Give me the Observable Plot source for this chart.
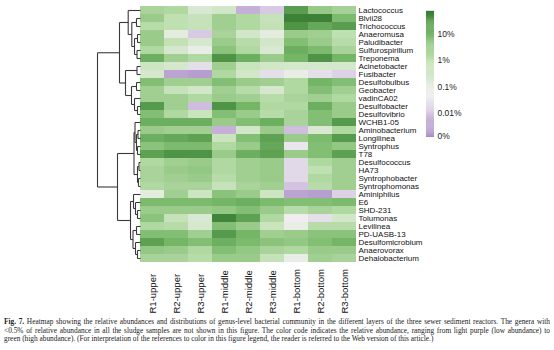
<!DOCTYPE html>
<html><head><meta charset="utf-8">
<script src="https://cdn.jsdelivr.net/npm/d3@7"></script>
<script src="https://cdn.jsdelivr.net/npm/@observablehq/plot@0.6"></script>
<style>
body{margin:0;background:#fff;}
#wrap{position:relative;width:554px;height:350px;overflow:hidden;background:#fff;}
#wrap svg{position:absolute;left:0;top:0;}
#caption{position:absolute;left:4px;top:318px;width:546px;font-family:"Liberation Serif","DejaVu Serif",serif;font-size:7.35px;line-height:8.6px;color:#222;}
#caption .j{text-align:justify;text-align-last:justify;}
#caption div{white-space:nowrap;}
</style></head><body>
<div id="wrap">
<div id="caption">
<div class="j"><b>Fig. 7.</b> Heatmap showing the relative abundances and distributions of genus-level bacterial community in the different layers of the three sewer sediment reactors. The genera with</div>
<div class="j">&lt;0.5% of relative abundance in all the sludge samples are not shown in this figure. The color code indicates the relative abundance, ranging from light purple (low abundance) to</div>
<div>green (high abundance). (For interpretation of the references to color in this figure legend, the reader is referred to the Web version of this article.)</div>
</div>
</div>
<script>
const samples = ["R1-upper","R2-upper","R3-upper","R1-middle","R2-middle","R3-middle","R1-bottom","R2-bottom","R3-bottom"];
const genera = ["Lactococcus","Blvii28","Trichococcus","Anaeromusa","Paludibacter","Sulfurospirillum","Treponema","Acinetobacter","Fusibacter","Desulfobulbus","Geobacter","vadinCA02","Desulfobacter","Desulfovibrio","WCHB1-05","Aminobacterium","Longilinea","Syntrophus","T78","Desulfococcus","HA73","Syntrophobacter","Syntrophomonas","Aminiphilus","E6","SHD-231","Tolumonas","Levilinea","PD-UASB-13","Desulfomicrobium","Anaerovorax","Dehalobacterium"];
// log10 of relative abundance (%), one row per genus, one column per sample
const abundance = [
  [0.3, 0.2, -0.7, -0.5, -2.3, -1.9, 1.35, 0.55, 0.35],
  [0.5, 0.0, -0.2, 0.4, 0.2, -0.2, 1.75, 1.75, 0.9],
  [0.1, 0.0, -0.2, 0.4, 0.2, -0.1, 1.5, 1.2, 1.35],
  [0.5, -1.0, -1.9, 0.3, -0.5, -1.0, 0.5, 0.4, 0.0],
  [0.5, -0.1, -0.6, 0.5, 0.1, -0.5, 0.8, 0.5, 0.1],
  [0.2, -0.6, -1.1, 0.7, 0.2, -0.7, 1.1, 0.9, 0.3],
  [1.1, 0.4, 0.2, 1.5, 1.1, 0.5, 1.0, 1.5, 1.0],
  [-0.4, -0.6, -1.6, 0.4, -0.3, -0.5, -0.6, -0.6, -0.6],
  [-0.6, -2.5, -2.6, 0.2, -0.5, -1.6, -1.1, -1.6, -1.8],
  [0.8, 0.4, 0.4, 0.8, 0.5, 0.4, 0.2, 1.0, 0.8],
  [0.4, -0.2, -0.5, 0.4, 0.1, -0.6, 0.2, 0.8, 0.4],
  [0.4, 0.4, 0.2, 0.5, 0.4, 0.1, 0.3, 0.4, 0.2],
  [1.4, 0.4, -2.1, 1.5, 1.0, 0.2, 0.2, 1.1, 0.5],
  [0.8, 0.2, -0.3, 0.8, 0.5, 0.1, 0.3, 0.8, 0.5],
  [1.1, 1.1, 1.1, 0.5, 0.8, 1.1, 0.3, 0.8, 1.4],
  [0.5, 0.4, 0.4, -2.3, -0.5, 0.5, -2.1, -0.7, 0.2],
  [1.1, 1.2, 1.3, -0.3, 0.8, 1.3, 0.5, 0.9, 1.4],
  [0.7, 0.9, 0.9, 0.2, 0.5, 1.2, -1.5, 0.8, 0.6],
  [1.3, 1.5, 1.5, 0.5, 1.1, 1.3, 0.5, 0.8, 1.3],
  [0.2, 0.4, 0.5, 0.2, 0.4, 0.5, -1.7, 0.2, 0.4],
  [0.3, 0.5, 0.6, 0.2, 0.4, 0.5, -1.7, 0.0, 0.4],
  [0.3, 0.4, 0.5, 0.1, 0.4, 0.5, -1.7, 0.2, 0.4],
  [0.2, 0.3, 0.3, -0.2, 0.3, 0.4, -2.0, 0.1, 0.4],
  [-1.0, 0.4, -0.4, 0.7, 0.5, -0.4, -2.5, -2.6, -1.8],
  [0.9, 0.9, 0.9, 1.0, 1.1, 0.9, 0.8, 0.8, 0.9],
  [0.5, 0.5, 0.5, 0.6, 0.8, 0.5, 0.1, 0.3, 0.2],
  [0.7, -0.2, -0.7, 1.7, 1.3, 0.2, -1.4, -1.6, -0.5],
  [0.2, 0.1, -0.6, 0.8, 0.5, -0.3, -1.1, 0.1, 0.1],
  [0.8, 0.8, 0.4, 1.4, 1.0, 0.4, 0.5, 0.7, 0.7],
  [1.3, 1.0, 0.8, 1.1, 0.9, 0.7, 0.6, 0.8, 1.0],
  [0.6, 0.5, 0.2, 0.8, 0.6, 0.3, 0.2, 0.5, 0.5],
  [0.3, 0.3, 0.1, 0.5, 0.5, -0.2, -1.1, 0.4, 0.3]
];
const legendValues = [1, 0, -1, -2, -2.86];
const legendLabels = ["10%", "1%", "0.1%", "0.01%", "0%"];
const colorStops = [-2.9, -2, -1.35, 0, 1, 1.85];
const colorRange = ["#a88bc5", "#d3c3e0", "#f1f0f1", "#bfe0b0", "#74b666", "#357a31"];
// hierarchical clustering: [height, child, child]
const tree = [43,
  [21,
    [12.3, "Lactococcus", [8.7, [4, "Blvii28", "Trichococcus"], [6, [3, "Anaeromusa", "Paludibacter"], [3.5, "Sulfurospirillum", "Treponema"]]]],
    [15, [3.5, "Acinetobacter", "Fusibacter"], [9, [4, "Desulfobulbus", "Geobacter"], [6, "vadinCA02", [3, "Desulfobacter", "Desulfovibrio"]]]]
  ],
  [23,
    [6.5, [5.5, "WCHB1-05", [4, [2.5, "Aminobacterium", "Longilinea"], [3, "Syntrophus", "T78"]]], [3, [1.5, "Desulfococcus", "HA73"], [2, "Syntrophobacter", "Syntrophomonas"]]],
    [10, [7, "Aminiphilus", [5, "E6", [3, "SHD-231", "Tolumonas"]]], [7.5, [4, "Levilinea", "PD-UASB-13"], [5, "Desulfomicrobium", [3, "Anaerovorax", "Dehalobacterium"]]]]
  ]
];

const cells = genera.flatMap((g, i) => samples.map((s, j) => ({genus: g, sample: s, v: abundance[i][j]})));
const color = {type: "linear", domain: colorStops, range: colorRange};
const W = 554, H = 318, MT = 6, MB = 56;
const font = "Liberation Sans, Arial, sans-serif";

const heat = Plot.plot({
  width: W, height: H, marginLeft: 140, marginRight: 198, marginTop: MT, marginBottom: MB,
  style: {background: "transparent", fontFamily: font, fontSize: "8px", color: "#111"},
  x: {domain: samples, padding: 0, axis: null},
  y: {domain: genera, padding: 0, axis: "right", tickSize: 0, tickPadding: 2, label: null},
  color,
  marks: [
    Plot.cell(cells, {x: "sample", y: "genus", fill: "v", shapeRendering: "crispEdges"}),
    Plot.text(samples, {x: d => d, frameAnchor: "bottom", dy: 51, rotate: -90, textAnchor: "start", lineAnchor: "middle", fontSize: 9.5, fill: "#111"})
  ]
});

const segs = [];
function lay(n) {
  if (typeof n === "string") return {y: genera.indexOf(n), h: 0};
  const [h, ...kids] = n;
  const ks = kids.map(lay);
  const y = d3.mean(ks, k => k.y);
  segs.push({x1: h, y1: ks[0].y, x2: h, y2: ks[ks.length - 1].y});
  ks.forEach(k => segs.push({x1: h, y1: k.y, x2: k.h, y2: k.y}));
  return {y, h};
}
lay(tree);

const dendro = Plot.plot({
  width: W, height: H, marginLeft: 97, marginRight: W - 140, marginTop: MT, marginBottom: MB,
  style: {background: "transparent"},
  x: {domain: [tree[0], 0], axis: null},
  y: {domain: [-0.5, genera.length - 0.5], reverse: true, axis: null},
  marks: [Plot.link(segs, {x1: "x1", y1: "y1", x2: "x2", y2: "y2", stroke: "#3a3a3a", strokeWidth: 1.1})]
});

const lo = colorStops[0], hi = colorStops[colorStops.length - 1], n = 120, step = (hi - lo) / n;
const ramp = d3.range(n).map(i => lo + i * step);
const bar = Plot.plot({
  width: W, height: H, marginLeft: 426, marginRight: W - 434, marginTop: 11, marginBottom: H - 137,
  style: {background: "transparent", fontFamily: font, fontSize: "8.5px", color: "#222"},
  x: {domain: [0, 1], axis: null},
  y: {domain: [lo, hi], axis: null},
  color,
  marks: [
    Plot.rect(ramp, {x1: 0, x2: 1, y1: d => d, y2: d => d + step * 1.2, fill: d => d + step / 2}),
    Plot.text(legendValues, {x: 1, y: d => d, text: (d, i) => legendLabels[i], textAnchor: "start", dx: 3, fill: "#222"})
  ]
});

const wrap = document.getElementById("wrap");
wrap.appendChild(heat);
wrap.appendChild(dendro);
wrap.appendChild(bar);
</script>
</body></html>
